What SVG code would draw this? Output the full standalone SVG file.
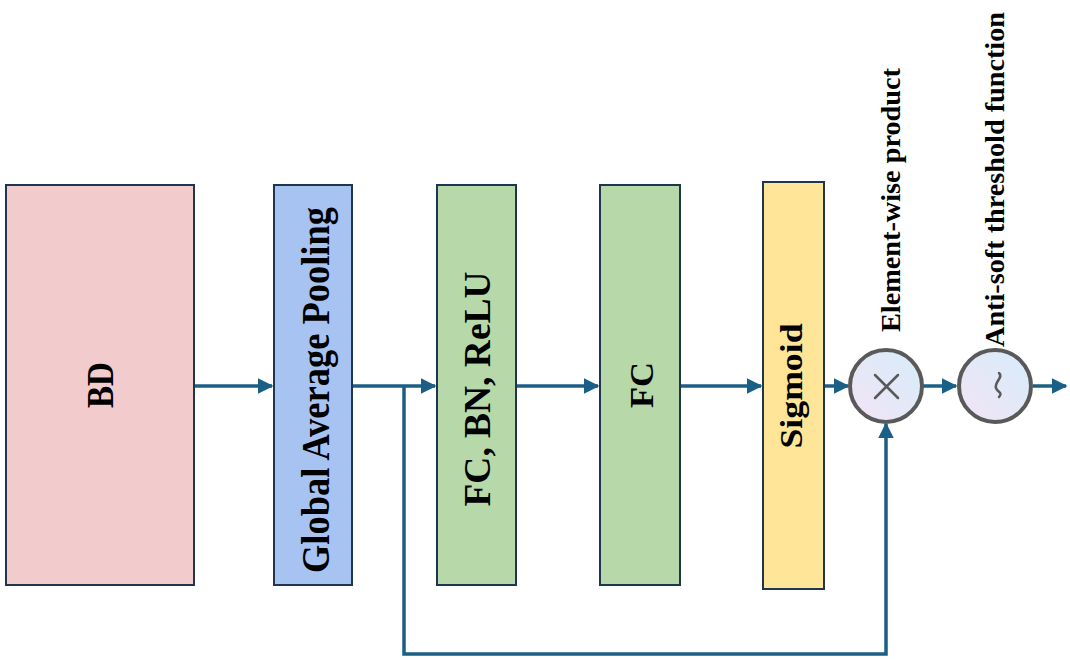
<svg xmlns="http://www.w3.org/2000/svg" width="1070" height="660" viewBox="0 0 1070 660">
<style>
.box{stroke:#1f3550;stroke-width:2}
.lbl{font-family:"Liberation Serif",serif;font-weight:bold;fill:#000}
.con{stroke:#1a5f85;stroke-width:3.5;fill:none}
.op{fill:url(#g);stroke:#595959;stroke-width:4}
.sym{stroke:#595959;stroke-width:2.5;fill:none;stroke-linecap:round}
</style>
<defs>
<marker id="ah" viewBox="0 0 10 10" refX="9" refY="5" markerWidth="4.5" markerHeight="4.5" orient="auto" markerUnits="strokeWidth">
<path d="M0,0 L10,5 L0,10 Z" fill="#1a5f85"/>
</marker>
<linearGradient id="g" x1="0" y1="1" x2="1" y2="0">
<stop offset="0" stop-color="#f3e4f5"/>
<stop offset="1" stop-color="#d6ecfa"/>
</linearGradient>
</defs>
<g id="connectors">
<line class="con" x1="194" y1="386" x2="272" y2="386" marker-end="url(#ah)"/>
<line class="con" x1="352" y1="386" x2="435" y2="386" marker-end="url(#ah)"/>
<line class="con" x1="516" y1="386" x2="598" y2="386" marker-end="url(#ah)"/>
<line class="con" x1="680" y1="386" x2="761" y2="386" marker-end="url(#ah)"/>
<line class="con" x1="824" y1="386" x2="848" y2="386" marker-end="url(#ah)"/>
<line class="con" x1="923" y1="386" x2="956" y2="386" marker-end="url(#ah)"/>
<line class="con" x1="1033" y1="386" x2="1066" y2="386" marker-end="url(#ah)"/>
<polyline class="con" points="404,386 404,654 886,654 886,424" marker-end="url(#ah)"/>
</g>
<g id="bd">
<rect class="box" x="6" y="185" width="188" height="400" fill="#f2cccc"/>
<text class="lbl" font-size="37" transform="translate(113,385) rotate(-90)" text-anchor="middle" textLength="46" lengthAdjust="spacingAndGlyphs">BD</text>
</g>
<g id="gap">
<rect class="box" x="274" y="185" width="78" height="400" fill="#a6c3f2"/>
<text class="lbl" font-size="39" transform="translate(329,390) rotate(-90)" text-anchor="middle" textLength="366" lengthAdjust="spacingAndGlyphs">Global Average Pooling</text>
</g>
<g id="fcbn">
<rect class="box" x="437" y="185" width="79" height="400" fill="#b7d8a9"/>
<text class="lbl" font-size="37" transform="translate(490,389) rotate(-90)" text-anchor="middle" textLength="235" lengthAdjust="spacingAndGlyphs">FC, BN, ReLU</text>
</g>
<g id="fc">
<rect class="box" x="600" y="185" width="80" height="400" fill="#b7d8a9"/>
<text class="lbl" font-size="34" transform="translate(653,385) rotate(-90)" text-anchor="middle" textLength="46" lengthAdjust="spacingAndGlyphs">FC</text>
</g>
<g id="sigmoid">
<rect class="box" x="763" y="182" width="61" height="407" fill="#fee597"/>
<text class="lbl" font-size="31" transform="translate(802,386) rotate(-90)" text-anchor="middle" textLength="125" lengthAdjust="spacingAndGlyphs">Sigmoid</text>
</g>
<g id="product">
<circle class="op" cx="886" cy="386" r="36"/>
<path class="sym" d="M875,375 L898,398 M898,375 L875,398"/>
<text class="lbl" font-size="27" transform="translate(900,332) rotate(-90)" text-anchor="start" textLength="264" lengthAdjust="spacingAndGlyphs">Element-wise product</text>
</g>
<g id="threshold">
<circle class="op" cx="995" cy="386" r="36"/>
<path class="sym" d="M999,373 C1004,377 994,382 996,388 C998,393 1003,392 999,397"/>
<text class="lbl" font-size="28" transform="translate(1004,347) rotate(-90)" text-anchor="start" textLength="335" lengthAdjust="spacingAndGlyphs">Anti-soft threshold function</text>
</g>
</svg>
